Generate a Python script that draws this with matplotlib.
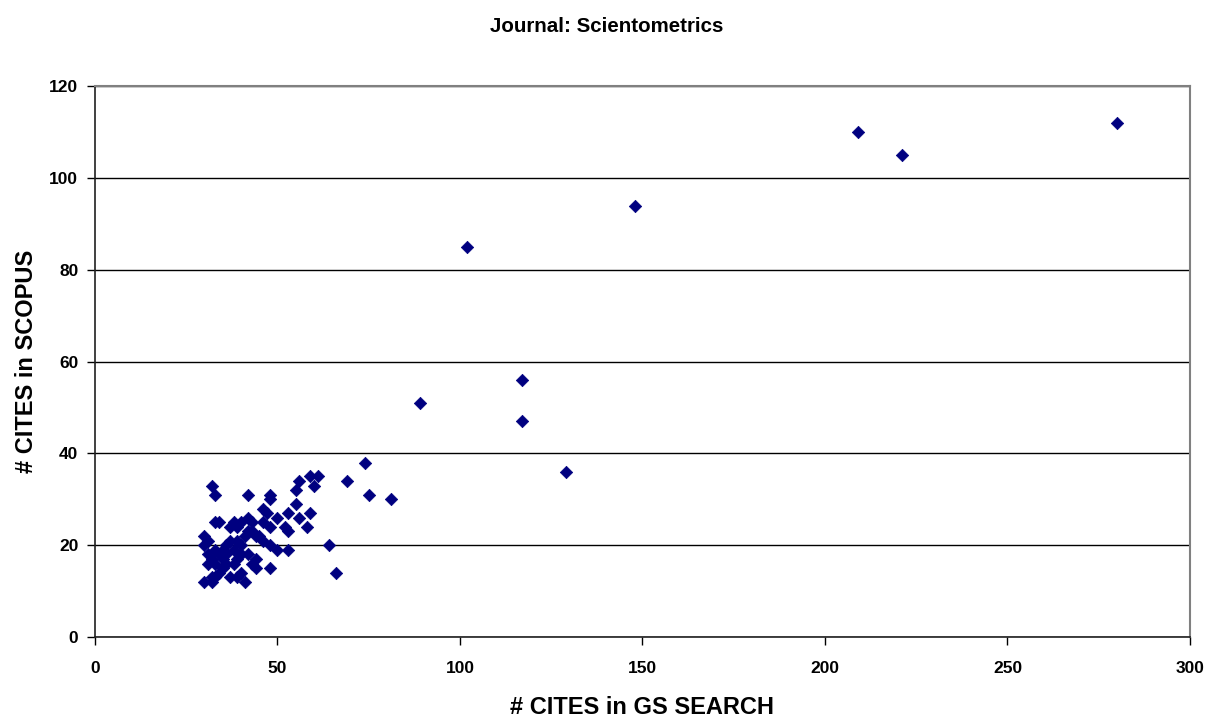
import matplotlib
matplotlib.use("Agg")
import matplotlib.pyplot as plt

plt.rcParams['font.family'] = ['Liberation Sans', 'DejaVu Sans']

gs_cites = [280, 221, 209, 148, 102, 117, 117, 129, 89, 74, 75, 81, 69, 64, 66,
            61, 59, 60, 56, 55, 59, 58, 55, 56, 53, 52, 53, 53, 50, 50,
            48, 48, 48, 48, 48, 47, 46, 46, 46, 45, 44, 44, 44, 43, 43, 43,
            42, 42, 42, 42, 41, 41, 40, 40, 40, 40, 39, 39, 39, 39, 38, 38, 38,
            37, 37, 37, 36, 36, 36, 35, 35, 35, 34, 34, 34, 33, 33, 33, 33,
            32, 33, 32, 32, 31, 31, 31, 30, 30, 30, 32]
scopus_cites = [112, 105, 110, 94, 85, 56, 47, 36, 51, 38, 31, 30, 34, 20, 14,
                35, 35, 33, 34, 32, 27, 24, 29, 26, 27, 24, 23, 19, 26, 19,
                31, 30, 24, 20, 15, 27, 28, 25, 21, 22, 22, 17, 15, 25, 23, 16,
                31, 26, 23, 18, 22, 12, 25, 20, 18, 14, 24, 21, 17, 13, 25, 19, 16,
                24, 21, 13, 20, 18, 16, 19, 17, 15, 25, 18, 14, 25, 19, 16, 13,
                33, 31, 17, 12, 21, 18, 16, 22, 20, 12, 13]

fig = plt.figure(figsize=(12.13, 7.19), dpi=100)
ax = fig.add_axes([0.0783, 0.114, 0.981 - 0.0783, 0.880 - 0.114])

ax.scatter(gs_cites, scopus_cites, marker='D', s=40, color='#000080',
           edgecolors='#000080', linewidths=0.5, zorder=3)

ax.set_xlim(0, 300)
ax.set_ylim(0, 120)
ax.set_xticks(range(0, 301, 50))
ax.set_yticks(range(0, 121, 20))
ax.yaxis.grid(True, color='black', linewidth=1)
ax.set_axisbelow(True)
for s in ['top', 'right']:
    ax.spines[s].set_color('#808080')
    ax.spines[s].set_linewidth(1.5)
for s in ['left', 'bottom']:
    ax.spines[s].set_color('#202020')
    ax.spines[s].set_linewidth(1.2)
ax.tick_params(axis='both', labelsize=12.5, length=6, color='black', width=1)
ax.tick_params(axis='x', pad=11)
ax.tick_params(axis='y', pad=6)
for lab in ax.get_xticklabels() + ax.get_yticklabels():
    lab.set_fontweight('bold')

ax.set_xlabel('# CITES in GS SEARCH', fontsize=17, fontweight='bold', labelpad=15)
ax.set_ylabel('# CITES in SCOPUS', fontsize=17, fontweight='bold', labelpad=8)
fig.suptitle('Journal: Scientometrics', fontsize=14.8, fontweight='bold', y=0.977)

fig.savefig('out.png', dpi=100)
